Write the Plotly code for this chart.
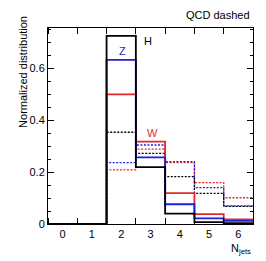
import plotly.graph_objects as go

bins = [0, 1, 2, 3, 4, 5, 6]
h_sig = [0, 0, 0.724, 0.219, 0.040, 0.007, 0.003]
z_sig = [0, 0, 0.631, 0.256, 0.076, 0.022, 0.012]
w_sig = [0, 0, 0.499, 0.317, 0.119, 0.038, 0.018]
h_qcd = [0, 0, 0.353, 0.272, 0.182, 0.118, 0.068]
z_qcd = [0, 0, 0.236, 0.304, 0.240, 0.140, 0.070]
w_qcd = [0, 0, 0.208, 0.288, 0.236, 0.159, 0.101]

RED = "rgb(228,40,40)"
BLUE = "rgb(30,30,225)"
BLACK = "black"
FONT = "Liberation Sans, Arial, sans-serif"


def step(vals):
    xs = [b - 0.5 for b in bins] + [bins[-1] + 0.5]
    ys = list(vals) + [vals[-1]]
    return xs, ys


fig = go.Figure()
for vals, col, dash, w in [
    (w_qcd, RED, "2px,1.5px", 1.3),
    (z_qcd, BLUE, "2px,1.5px", 1.3),
    (h_qcd, BLACK, "2px,1.5px", 1.3),
    (w_sig, RED, "solid", 1.8),
    (z_sig, BLUE, "solid", 1.8),
    (h_sig, BLACK, "solid", 1.8),
]:
    xs, ys = step(vals)
    fig.add_trace(go.Scatter(x=xs, y=ys, mode="lines", line_shape="hv",
                             line=dict(color=col, dash=dash, width=w),
                             showlegend=False, hoverinfo="skip"))

# the page body has an 8px default margin, so the figure is 8px smaller
fig.update_layout(
    width=258, height=253,
    margin=dict(l=40, r=13, t=20, b=37),
    paper_bgcolor="white", plot_bgcolor="white",
    font=dict(family=FONT, size=11, color="black"),
    xaxis=dict(range=[-0.5, 6.5], tickvals=bins, ticktext=[str(b) for b in bins],
               ticks="", showgrid=False, zeroline=False, showline=True,
               linecolor="black", linewidth=1, mirror="ticks",
               minor=dict(ticks="inside", tick0=0.5, dtick=1, ticklen=6,
                          tickcolor="black", showgrid=False),
               tickfont=dict(size=11)),
    yaxis=dict(range=[0, 0.754], tickvals=[0, 0.2, 0.4, 0.6],
               ticktext=["0", "0.2", "0.4", "0.6"],
               ticks="inside", ticklen=6, tickcolor="black",
               showgrid=False, zeroline=False, showline=True,
               linecolor="black", linewidth=1, mirror="ticks",
               minor=dict(ticks="inside", dtick=0.05, tick0=0, ticklen=3,
                          tickcolor="black", showgrid=False),
               tickfont=dict(size=11)),
)

fig.add_annotation(text="QCD dashed", x=6.45, xref="x", y=1.066, yref="paper",
                   xanchor="right", yanchor="middle", showarrow=False,
                   font=dict(size=11, color="black"))
fig.add_annotation(text="H", x=2.9, y=0.704, xref="x", yref="y",
                   showarrow=False, font=dict(size=11, color=BLACK))
fig.add_annotation(text="Z", x=2.04, y=0.665, xref="x", yref="y",
                   showarrow=False, font=dict(size=11, color=BLUE))
fig.add_annotation(text="W", x=3.07, y=0.35, xref="x", yref="y",
                   showarrow=False, font=dict(size=11, color=RED))
fig.add_annotation(text="Normalized distribution", x=-0.122, y=0.776,
                   xref="paper", yref="paper", textangle=-90,
                   xanchor="center", yanchor="middle", showarrow=False,
                   font=dict(size=11, color="black"))
fig.add_annotation(text="N<sub>jets</sub>", x=6.5, xref="x", y=-0.08, yref="paper",
                   xanchor="right", yanchor="top", showarrow=False,
                   font=dict(size=11, color="black"))

fig.write_html("out.html")
